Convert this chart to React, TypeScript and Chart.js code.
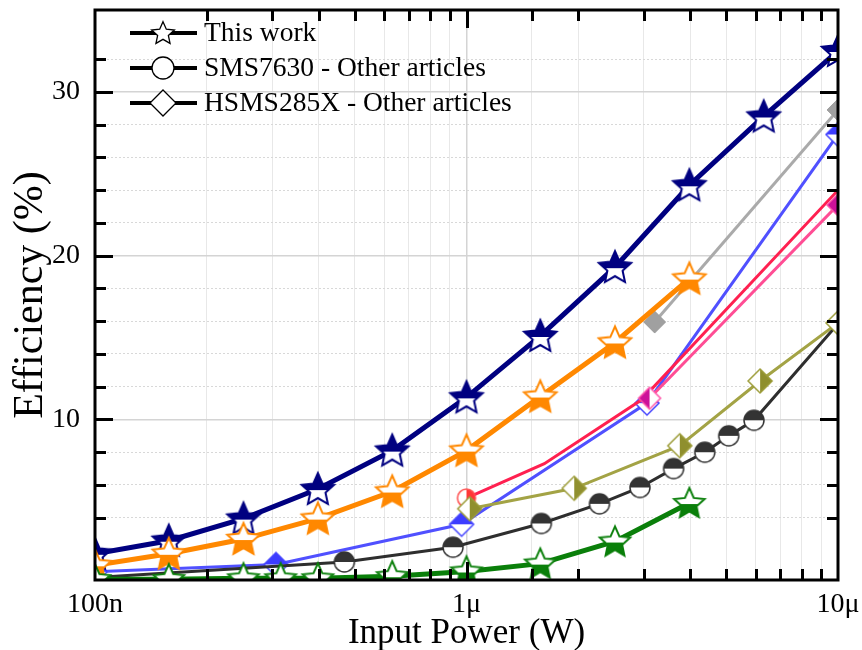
import { useEffect, useRef } from 'react';
import { Chart, registerables } from 'chart.js';

Chart.register(...registerables);

const FONT = "'Liberation Serif', 'Times New Roman', serif";

// ---- Data (Input power in W, efficiency in %) ----
const navyX = [1e-7, 1.58e-7, 2.51e-7, 3.98e-7, 6.31e-7, 1e-6, 1.58e-6, 2.51e-6, 3.98e-6, 6.31e-6, 1e-5];
const navyY = [1.8, 2.6, 3.95, 5.75, 8.1, 11.35, 15.1, 19.3, 24.3, 28.5, 32.5];

const orangeX = [1e-7, 1.58e-7, 2.51e-7, 3.98e-7, 6.31e-7, 1e-6, 1.58e-6, 2.51e-6, 3.98e-6];
const orangeY = [1.1, 1.8, 2.7, 3.95, 5.6, 8.1, 11.4, 14.7, 18.6];

const greenX = [1e-7, 1.58e-7, 2.51e-7, 3.16e-7, 3.98e-7, 6.31e-7, 1e-6, 1.58e-6, 2.51e-6, 3.98e-6];
const greenY = [0.25, 0.25, 0.3, 0.3, 0.3, 0.43, 0.72, 1.2, 2.55, 4.9];

const blueX = [1e-7, 3.07e-7, 9.7e-7, 3.06e-6, 1e-5];
const blueY = [0.7, 1.15, 3.6, 11.0, 27.4];

const redX = [1e-6, 1.62e-6, 2.96e-6, 1e-5];
const redY = [5.2, 7.3, 11.2, 24.0];
const redMarker = [true, false, false, false];

const pinkX = [3.11e-6, 1e-5];
const pinkY = [11.3, 23.1];

const grayX = [3.21e-6, 1e-5];
const grayY = [15.95, 28.9];

const oliveX = [1.02e-6, 1.95e-6, 3.75e-6, 6.17e-6, 1e-5];
const oliveY = [4.55, 5.8, 8.4, 12.35, 15.9];

const blackX = [1e-7, 4.69e-7, 9.2e-7, 1.59e-6, 2.28e-6, 2.93e-6, 3.61e-6, 4.38e-6, 5.08e-6, 5.94e-6, 1e-5];
const blackY = [0.35, 1.3, 2.2, 3.65, 4.85, 5.85, 7.0, 8.0, 9.0, 9.95, 15.85];
const blackMarker = [false, true, true, true, true, true, true, true, true, true, false];

const xMajorLabels: Record<string, string> = { '-7': '100n', '-6': '1μ', '-5': '10μ' };
const yLabelValues = [10, 20, 30];

const legendItems = [
  { label: 'This work', shape: 'star' },
  { label: 'SMS7630 - Other articles', shape: 'circle' },
  { label: 'HSMS285X - Other articles', shape: 'diamond' },
];

// ---- marker helpers ----
type Shape = 'star' | 'circle' | 'diamond';
type Half = 'top' | 'bottom' | 'left' | 'right' | 'full' | 'none';

function tracePath(ctx: CanvasRenderingContext2D, shape: Shape, cx: number, cy: number, s: number) {
  ctx.beginPath();
  if (shape === 'star') {
    for (let i = 0; i < 10; i++) {
      const ang = -Math.PI / 2 + (i * Math.PI) / 5;
      const rad = i % 2 === 0 ? s : s * 0.47;
      const px = cx + rad * Math.cos(ang);
      const py = cy + rad * Math.sin(ang);
      if (i === 0) ctx.moveTo(px, py);
      else ctx.lineTo(px, py);
    }
    ctx.closePath();
  } else if (shape === 'circle') {
    ctx.arc(cx, cy, s, 0, Math.PI * 2);
  } else {
    ctx.moveTo(cx, cy - s);
    ctx.lineTo(cx + s, cy);
    ctx.lineTo(cx, cy + s);
    ctx.lineTo(cx - s, cy);
    ctx.closePath();
  }
}

function makeMarker(shape: Shape, size: number, stroke: string, half: Half, fill: string, lw = 2) {
  const pad = Math.ceil(lw) + 2;
  const dim = Math.ceil(size * 2 + pad * 2);
  const c = document.createElement('canvas');
  c.width = dim;
  c.height = dim;
  const ctx = c.getContext('2d')!;
  const cx = dim / 2;
  const cy = shape === 'star' ? dim / 2 + size * 0.06 : dim / 2;
  tracePath(ctx, shape, cx, cy, size);
  ctx.fillStyle = '#ffffff';
  ctx.fill();
  if (half !== 'none') {
    ctx.save();
    ctx.beginPath();
    if (half === 'top') ctx.rect(0, 0, dim, cy);
    else if (half === 'bottom') ctx.rect(0, cy, dim, dim);
    else if (half === 'left') ctx.rect(0, 0, cx, dim);
    else if (half === 'right') ctx.rect(cx, 0, dim, dim);
    else ctx.rect(0, 0, dim, dim);
    ctx.clip();
    tracePath(ctx, shape, cx, cy, size);
    ctx.fillStyle = fill;
    ctx.fill();
    ctx.restore();
  }
  tracePath(ctx, shape, cx, cy, size);
  ctx.lineWidth = lw;
  ctx.strokeStyle = stroke;
  ctx.lineJoin = 'miter';
  ctx.stroke();
  return c;
}

const isMajor = (v: number) => Math.abs(Math.log10(v) - Math.round(Math.log10(v))) < 1e-6;

const toPts = (xs: number[], ys: number[]) => xs.map((x, i) => ({ x, y: ys[i] }));

export default function App() {
  const ref = useRef<HTMLCanvasElement | null>(null);

  useEffect(() => {
    if (!ref.current) return;

    const navyStar = makeMarker('star', 17, '#000080', 'top', '#000080', 2);
    const orangeStar = makeMarker('star', 17, '#ff8800', 'bottom', '#ff8800', 2);
    const greenStar = makeMarker('star', 16, '#0a7f0a', 'bottom', '#0a7f0a', 2);
    const blueDia = makeMarker('diamond', 12, '#4646ff', 'top', '#3c3cff', 1.5);
    const redCirc = makeMarker('circle', 9, '#ff5050', 'right', 'rgba(255,20,20,0.85)', 1.5);
    const pinkDia = makeMarker('diamond', 11, '#ff55aa', 'left', '#cc1199', 1.5);
    const grayDia = makeMarker('diamond', 11, '#a0a0a0', 'full', '#a0a0a0', 1);
    const oliveDia = makeMarker('diamond', 12, '#9d9d3a', 'right', '#8f8f2e', 1.5);
    const blackCirc = makeMarker('circle', 10, '#333333', 'top', '#333333', 1.5);

    const legendMarkers: Record<string, HTMLCanvasElement> = {
      star: makeMarker('star', 12, '#000', 'none', '#000', 1.3),
      circle: makeMarker('circle', 11, '#000', 'none', '#000', 1.3),
      diamond: makeMarker('diamond', 13, '#000', 'none', '#000', 1.3),
    };

    const framePlugin = {
      id: 'frameTicks',
      afterDraw(chart: any) {
        const { ctx, chartArea } = chart;
        const { left, right, top, bottom } = chartArea;
        const xs = chart.scales.x;
        const ys = chart.scales.y;
        ctx.save();
        ctx.strokeStyle = '#000';
        ctx.lineWidth = 3;
        ctx.lineCap = 'butt';
        const seg = (x1: number, y1: number, x2: number, y2: number) => {
          ctx.beginPath();
          ctx.moveTo(x1, y1);
          ctx.lineTo(x2, y2);
          ctx.stroke();
        };
        xs.ticks.forEach((t: any) => {
          const v = t.value;
          if (v <= xs.min * 1.0001 || v >= xs.max * 0.9999) return;
          const px = Math.round(xs.getPixelForValue(v)) + 0.5;
          const len = isMajor(v) ? 18 : 11;
          seg(px, bottom, px, bottom - len);
          seg(px, top, px, top + len);
        });
        ys.ticks.forEach((t: any) => {
          const v = t.value;
          if (Math.abs(v % 2) > 1e-6 || v <= 0.5 || v >= 34.9) return;
          const py = Math.round(ys.getPixelForValue(v)) + 0.5;
          const len = v % 10 === 0 ? 18 : 11;
          seg(left, py, left + len, py);
          seg(right, py, right - len, py);
        });
        ctx.lineWidth = 3;
        ctx.strokeRect(left, top, right - left, bottom - top);

        // legend
        const rows = [33, 68, 103];
        legendItems.forEach((it, i) => {
          const y = rows[i];
          ctx.lineWidth = 4;
          seg(130, y, 197, y);
          const m = legendMarkers[it.shape];
          ctx.drawImage(m, 163 - m.width / 2, y - m.height / 2);
          ctx.fillStyle = '#000';
          ctx.font = `27.5px ${FONT}`;
          ctx.textBaseline = 'middle';
          ctx.textAlign = 'left';
          ctx.fillText(it.label, 204, y + 1);
        });
        ctx.restore();
      },
    };

    const chart = new Chart(ref.current, {
      type: 'line',
      data: {
        datasets: [
          {
            label: 'green',
            data: toPts(greenX, greenY),
            borderColor: '#0a7f0a',
            borderWidth: 5,
            pointStyle: greenStar as any,
            pointRadius: 16,
            clip: 0,
          },
          {
            label: 'orange',
            data: toPts(orangeX, orangeY),
            borderColor: '#ff8800',
            borderWidth: 5,
            pointStyle: orangeStar as any,
            pointRadius: 17,
            clip: 0,
          },
          {
            label: 'navy',
            data: toPts(navyX, navyY),
            borderColor: '#000080',
            borderWidth: 5,
            pointStyle: navyStar as any,
            pointRadius: 17,
            clip: 0,
          },
          {
            label: 'olive',
            data: toPts(oliveX, oliveY),
            borderColor: '#a3a345',
            borderWidth: 3,
            pointStyle: oliveDia as any,
            pointRadius: 12,
            clip: 0,
          },
          {
            label: 'black',
            data: toPts(blackX, blackY),
            borderColor: '#2e2e2e',
            borderWidth: 3,
            pointStyle: blackCirc as any,
            pointRadius: blackMarker.map((m) => (m ? 10 : 0)),
            clip: 0,
          },
          {
            label: 'pink',
            data: toPts(pinkX, pinkY),
            borderColor: '#ff4d94',
            borderWidth: 3,
            pointStyle: pinkDia as any,
            pointRadius: 11,
            clip: 0,
          },
          {
            label: 'red',
            data: toPts(redX, redY),
            borderColor: '#ff2050',
            borderWidth: 3,
            pointStyle: redCirc as any,
            pointRadius: redMarker.map((m) => (m ? 9 : 0)),
            clip: 0,
          },
          {
            label: 'blue',
            data: toPts(blueX, blueY),
            borderColor: '#5050ff',
            borderWidth: 3,
            pointStyle: blueDia as any,
            pointRadius: 12,
            clip: 0,
          },
          {
            label: 'gray',
            data: toPts(grayX, grayY),
            borderColor: '#aaaaaa',
            borderWidth: 3,
            pointStyle: grayDia as any,
            pointRadius: 11,
            clip: 0,
          },
        ] as any,
      },
      options: {
        animation: false,
        responsive: false,
        maintainAspectRatio: false,
        layout: { autoPadding: false, padding: { left: 0, right: 24, top: 10, bottom: 0 } },
        plugins: {
          legend: { display: false },
          tooltip: { enabled: false },
        },
        elements: { line: { tension: 0 }, point: { borderWidth: 0 } },
        scales: {
          x: {
            type: 'logarithmic',
            min: 1e-7,
            max: 1e-5,
            afterFit: (s: any) => {
              s.height = 70;
              s.paddingLeft = 0;
              s.paddingRight = 0;
            },
            border: { display: false },
            grid: {
              drawTicks: false,
              color: (ctx: any) => (ctx.tick && isMajor(ctx.tick.value) ? '#d4d4d4' : '#e8e8e8'),
              lineWidth: (ctx: any) => (ctx.tick && isMajor(ctx.tick.value) ? 1.5 : 1),
            },
            ticks: {
              autoSkip: false,
              maxRotation: 0,
              padding: 8,
              color: '#000',
              font: { family: FONT, size: 28 },
              callback: (v: any) => {
                const n = Number(v);
                if (!isMajor(n)) return '';
                return xMajorLabels[String(Math.round(Math.log10(n)))] || '';
              },
            },
            title: {
              display: true,
              text: 'Input Power (W)',
              color: '#000',
              font: { family: FONT, size: 35, lineHeight: 0.95 },
              padding: { top: 0, bottom: 0 },
            },
          },
          y: {
            type: 'linear',
            min: 0.2,
            max: 35,
            afterFit: (s: any) => {
              s.width = 95;
              s.paddingTop = 0;
              s.paddingBottom = 0;
            },
            border: {
              display: false,
              dash: (ctx: any) => (ctx.tick && ctx.tick.value % 10 === 0 ? [] : [2, 2]),
            },
            grid: {
              drawTicks: false,
              color: (ctx: any) => (ctx.tick && ctx.tick.value % 10 === 0 ? '#d4d4d4' : '#d8d8d8'),
              lineWidth: (ctx: any) => (ctx.tick && ctx.tick.value % 10 === 0 ? 1.5 : 1),
            },
            ticks: {
              stepSize: 2,
              autoSkip: false,
              padding: 15,
              color: '#000',
              font: { family: FONT, size: 28 },
              callback: (v: any) => (yLabelValues.includes(Number(v)) ? String(v) : ''),
            },
            title: {
              display: true,
              text: 'Efficiency (%)',
              color: '#000',
              font: { family: FONT, size: 42, lineHeight: 1.0 },
              padding: { top: 10, bottom: 0 },
            },
          },
        },
      } as any,
      plugins: [framePlugin],
    });

    return () => chart.destroy();
  }, []);

  return (
    <div style={{ position: 'fixed', left: 0, top: 0, width: 862, height: 650, background: '#fff' }}>
      <canvas ref={ref} width={862} height={650} style={{ display: 'block' }} />
    </div>
  );
}
